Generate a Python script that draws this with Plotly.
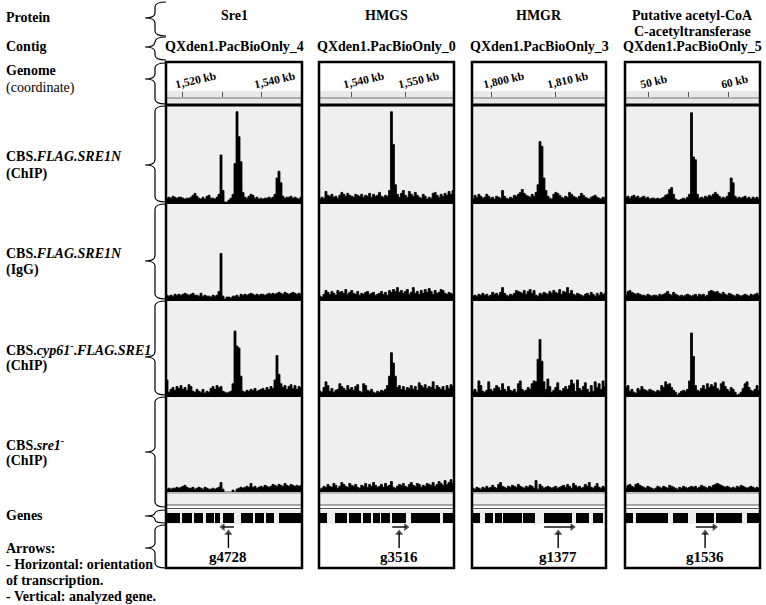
import plotly.graph_objects as go

W, H = 766, 605
SERIF = "Liberation Serif"

# ------------------------------------------------------------------ data
protein_names = ["Sre1", "HMGS", "HMGR", "Putative acetyl-CoA|C-acetyltransferase"]
contig_names = ["QXden1.PacBioOnly_4", "QXden1.PacBioOnly_0",
                "QXden1.PacBioOnly_3", "QXden1.PacBioOnly_5"]
target_genes = ["g4728", "g3516", "g1377", "g1536"]
target_strand = [-1, 1, 1, 1]
target_index = [5, 6, 5, 3]

view_start_kb = [1515.70, 1534.18, 1797.03, 47.16]
view_end_kb = [1550.13, 1558.73, 1817.97, 63.83]
bin_kb = [0.5063, 0.3610, 0.3080, 0.2451]

tick_kb = [[1520, 1540], [1540, 1550], [1800, 1810], [50, 60]]
tick_labels = [["1,520 kb", "1,540 kb"], ["1,540 kb", "1,550 kb"],
               ["1,800 kb", "1,810 kb"], ["50 kb", "60 kb"]]
minor_tick_kb = [[1530], [], [], [55]]

# coverage (% of track height), 68 bins per window
sre1_chip = [4,5,4,6,5,4,5,5,4,3,4,4,5,7,9,6,4,3,5,3,6,7,4,4,3,5,8,
             49,
             12,0,0,2,4,8,40,94,68,42,10,
             5,4,6,8,7,4,5,3,4,3,4,4,5,4,5,8,25,32,20,6,4,5,5,6,4,5,4,3,5]
sre1_igg = [4,3,4,3,5,4,5,4,5,6,5,4,5,6,4,4,3,6,3,4,3,3,2,4,3,4,8,
            48,
            3,0,2,2,1,3,3,4,2,5,4,5,4,5,6,5,4,5,4,5,5,4,5,6,5,6,5,6,7,6,5,7,6,5,6,7,6,5,6,5]
sre1_cyp61 = [16,3,6,8,5,9,7,10,6,8, 5,11,9,4,3,6,4,3,6,2, 4,3,7,9,6,10,8,9,4,3,
              2,3,4,12,68,52,50,20,4,3, 5,4,6,5,7,4,5,6,7,5, 8,6,9,7,16,42,22,12,8,10,
              6,9,11,7,10,6,9,8]
sre1_del = [3,4,3,4,4,5,4,5,6,7, 5,4,4,5,3,4,5,4,3,5, 4,3,3,4,3,4,5,10,3,0,
            0,0,0,2,0,3,4,5,4,5, 6,5,9,5,6,4,5,6,5,7, 6,5,6,8,7,6,8,7,6,9,
            7,6,8,7,6,7,6,7]

hmgs_chip = [3,5,4,11,7,6,8,5,6,4, 7,10,8,6,9,7,6,5,8,7, 6,8,5,7,6,9,5,8,6,7,
             10,6,5,7,6,12,94,60,18,8, 5,9,12,7,5,11,8,6,10,7, 5,4,8,6,3,5,4,9,10,7,
             5,8,6,9,7,11,8,12]
hmgs_igg = [3,2,5,9,7,5,8,6,4,9, 7,8,6,10,5,7,9,6,5,8, 4,6,5,7,8,5,6,7,4,5,
            6,8,5,7,4,9,7,10,8,12, 7,9,6,8,10,5,7,12,6,8, 5,9,6,10,7,11,8,5,9,6,
            7,10,9,6,5,7,6,5]
hmgs_cyp61 = [4,3,8,14,10,4,7,3,5,6, 12,9,7,5,10,6,8,5,9,11, 4,3,12,10,5,4,6,3,2,4,
              3,5,4,6,10,20,45,34,20,8, 10,6,9,5,8,7,10,6,9,5, 13,10,8,11,7,9,8,14,6,10,
              8,6,9,5,10,7,11,9]
hmgs_del = [3,4,6,5,8,6,5,9,7,4, 6,10,8,6,5,9,7,6,8,5, 4,7,6,9,5,8,6,10,7,5,
            6,8,5,9,6,7,11,5,4,6, 8,7,9,6,5,8,10,7,6,9, 8,5,7,6,9,8,7,10,6,8,
            11,9,7,12,8,10,13,9]

hmgr_chip = [3,7,5,8,6,4,5,8,6,4, 5,3,6,5,4,12,6,4,3,5, 4,7,6,8,10,13,9,7,6,5,
             8,6,10,18,63,58,25,12,6,4, 3,8,10,9,7,5,4,6,5,10, 8,6,5,4,6,9,7,5,4,3,
             5,6,7,5,4,3,5,4]
hmgr_igg = [3,4,3,5,4,6,4,5,3,4, 7,5,6,4,7,12,6,4,3,5, 4,6,9,8,7,6,9,5,8,10,
            6,9,4,3,6,5,7,6,5,8, 6,9,7,6,10,5,8,7,12,6, 9,5,4,6,5,4,3,5,6,4,
            7,5,3,6,4,7,5,6]
hmgr_cyp61 = [4,6,3,15,10,4,3,5,14,6, 4,7,10,8,5,12,6,4,9,5, 4,6,3,12,15,6,4,5,8,6,
              12,15,14,38,59,36,14,6,17,9, 3,5,8,13,5,4,7,9,6,10, 16,12,4,16,7,5,9,13,6,3,
              10,4,14,8,12,6,15,9]
hmgr_del = [4,3,5,4,3,5,4,6,4,5, 7,5,4,8,10,6,5,4,6,5, 7,6,5,8,6,5,4,6,5,7,
            6,4,12,3,8,6,4,5,6,5, 4,5,6,4,5,6,7,5,8,6, 4,9,7,5,6,4,5,8,6,10,
            5,4,6,9,5,4,6,5]

acat_chip = [5,6,4,6,7,5,6,4,5,6, 4,5,3,4,4,3,4,3,4,5, 7,8,13,15,8,3,2,2,3,4,
             3,5,8,93,47,44,8,4,5,4, 6,5,7,6,8,10,8,6,4,5, 4,6,10,25,20,6,4,5,4,5,
             6,4,5,3,5,4,5,3]
acat_igg = [4,8,9,7,6,5,6,5,4,4, 3,5,4,3,4,4,3,5,4,5, 6,8,5,4,7,5,4,3,4,3,
            4,5,4,3,4,5,3,5,4,5, 3,4,8,9,8,7,8,6,5,7, 5,4,6,5,4,3,5,4,3,4,
            5,4,3,5,4,5,6,4]
acat_cyp61 = [8,10,4,6,3,2,7,5,9,6, 5,4,6,5,4,3,5,4,10,8, 14,11,12,8,5,3,0,2,4,5,
              4,6,15,66,41,10,5,4,7,10, 6,12,8,11,9,13,7,5,12,14, 9,6,4,8,6,3,0,1,3,7,
              12,14,8,5,4,6,10,5]
acat_del = [4,7,8,6,5,8,9,7,6,5, 4,6,5,4,3,4,6,5,4,6, 5,4,7,6,5,4,3,5,4,6,
            5,4,5,6,5,6,4,5,7,6, 5,4,6,5,7,8,9,8,7,6, 5,6,5,4,5,4,6,5,7,6,
            5,4,5,6,5,4,5,4]

# gene models (kb)
sre1_gene_start = [1515.9, 1519.8, 1522.8, 1525.8, 1528.1, 1530.1, 1534.7, 1538.2, 1541.0, 1544.3]
sre1_gene_end = [1519.2, 1522.3, 1525.1, 1527.9, 1529.4, 1532.9, 1537.7, 1540.5, 1543.0, 1549.9]
hmgs_gene_start = [1534.2, 1537.1, 1539.6, 1542.2, 1544.0, 1545.5, 1547.5, 1550.9, 1556.7]
hmgs_gene_end = [1535.6, 1539.3, 1541.8, 1543.6, 1545.3, 1547.1, 1550.0, 1556.2, 1558.7]
hmgr_gene_start = [1797.0, 1799.1, 1800.6, 1801.9, 1805.0, 1808.3, 1813.3, 1815.9]
hmgr_gene_end = [1798.3, 1800.3, 1801.7, 1804.8, 1806.9, 1812.7, 1815.3, 1817.5]
acat_gene_start = [47.2, 48.5, 53.1, 55.9, 58.4, 62.2]
acat_gene_end = [48.1, 52.5, 54.9, 58.2, 61.6, 63.8]

coverage = [
    [sre1_chip, sre1_igg, sre1_cyp61, sre1_del],
    [hmgs_chip, hmgs_igg, hmgs_cyp61, hmgs_del],
    [hmgr_chip, hmgr_igg, hmgr_cyp61, hmgr_del],
    [acat_chip, acat_igg, acat_cyp61, acat_del],
]
gene_start = [sre1_gene_start, hmgs_gene_start, hmgr_gene_start, acat_gene_start]
gene_end = [sre1_gene_end, hmgs_gene_end, hmgr_gene_end, acat_gene_end]

# ------------------------------------------------------------------ geometry (pixels)
col_px = [(166, 302), (319, 454), (472, 606), (625, 760)]
BOX_TOP, BOX_BOT = 62, 568
track_px = [(106, 202), (204, 299), (301, 395), (397, 492)]
band_px = (92, 97)
genes_px = (513, 523)
arrow_px = (524, 568)


def px(x):
    return x / W


def py(y):
    return 1 - y / H


fig = go.Figure()
layout = dict(width=W, height=H, margin=dict(l=0, r=0, t=0, b=0),
              paper_bgcolor="white", plot_bgcolor="rgba(0,0,0,0)",
              showlegend=False, barmode="overlay", bargap=0)

# y axes: 1 = genome band, 2..5 = tracks, 6 = genes, 7 = arrow area
ydoms = [(band_px[1], band_px[0])] + [(b, t) for (t, b) in track_px] + \
        [(genes_px[1], genes_px[0]), (arrow_px[1], arrow_px[0])]
yranges = [[0, 1], [0, 100], [0, 100], [0, 100], [0, 100], [0, 1], [44, 0]]
for i, ((b, t), rg) in enumerate(zip(ydoms, yranges)):
    name = "yaxis" if i == 0 else f"yaxis{i+1}"
    layout[name] = dict(domain=[py(b), py(t)], range=rg, visible=False,
                        anchor="x", fixedrange=True)

for c in range(4):
    x0, x1 = col_px[c]
    name = "xaxis" if c == 0 else f"xaxis{c+1}"
    ax = dict(domain=[px(x0), px(x1)],
              range=[view_start_kb[c], view_end_kb[c]],
              anchor="y", side="top", ticks="inside", ticklen=5,
              tickwidth=1, tickcolor="#555", showgrid=False,
              zeroline=False, showline=False,
              tickmode="array", tickvals=tick_kb[c], ticktext=tick_labels[c],
              tickangle=-13, ticklabelshift=-8,
              tickfont=dict(family=SERIF, size=11.5, color="black", weight="bold"),
              fixedrange=True)
    if minor_tick_kb[c]:
        ax["minor"] = dict(tickmode="array", tickvals=minor_tick_kb[c], ticks="inside",
                           ticklen=5, tickwidth=1, tickcolor="#555", showgrid=False)
    layout[name] = ax
    xa = "x" if c == 0 else f"x{c+1}"
    fig.add_trace(go.Scatter(x=[], y=[], xaxis=xa, yaxis="y", hoverinfo="skip"))
    # coverage tracks
    for r in range(4):
        vals = coverage[c][r]
        xs = [view_start_kb[c] + i * bin_kb[c] for i in range(len(vals))] + [view_end_kb[c]]
        ys = list(vals) + [vals[-1]]
        fig.add_trace(go.Scatter(x=xs, y=ys, mode="lines",
                                 line=dict(color="black", width=0.8, shape="hv"),
                                 fill="tozeroy", fillcolor="black",
                                 xaxis=xa, yaxis=f"y{r+2}", hoverinfo="skip"))
    # genes
    s, e = gene_start[c], gene_end[c]
    fig.add_trace(go.Bar(x=[(a + b) / 2 for a, b in zip(s, e)], y=[1] * len(s),
                         width=[b - a for a, b in zip(s, e)], base=0,
                         marker=dict(color="black", line=dict(width=0)),
                         xaxis=xa, yaxis="y6", hoverinfo="skip"))
    # arrows for the analysed gene
    gi = target_index[c]
    gs, ge = s[gi], e[gi]
    mid = (gs + ge) / 2
    head, tail = (ge, gs) if target_strand[c] > 0 else (gs, ge)
    fig.add_trace(go.Scatter(x=[tail, head], y=[3, 3], mode="lines+markers",
                             line=dict(color="black", width=1.4),
                             marker=dict(symbol=["circle", "triangle-right" if target_strand[c] > 0 else "triangle-left"],
                                         size=[0, 7], color="black", line=dict(width=0)),
                             xaxis=xa, yaxis="y7", hoverinfo="skip"))
    fig.add_trace(go.Scatter(x=[mid, mid], y=[24, 9], mode="lines+markers",
                             line=dict(color="black", width=1.4),
                             marker=dict(symbol=["circle", "triangle-up"], size=[0, 7],
                                         color="black", line=dict(width=0)),
                             xaxis=xa, yaxis="y7", hoverinfo="skip"))

layout_shapes = []
annotations = []

for c in range(4):
    x0, x1 = col_px[c]
    X0, X1 = px(x0), px(x1)

    def rect(ya, yb, fill, layer="below"):
        layout_shapes.append(dict(type="rect", xref="paper", yref="paper",
                                  x0=X0, x1=X1, y0=py(ya), y1=py(yb),
                                  fillcolor=fill, line=dict(width=0), layer=layer))

    def hline(y, color, width, layer="above"):
        layout_shapes.append(dict(type="line", xref="paper", yref="paper",
                                  x0=X0, x1=X1, y0=py(y), y1=py(y),
                                  line=dict(color=color, width=width), layer=layer))

    rect(105, 505, "#efefef")
    rect(91, 104, "#e9e9e9")
    hline(98, "#777", 1, "below")
    rect(510, 524, "#efefef")
    hline(505, "#555", 1)
    hline(508.5, "#555", 1)
    hline(105, "black", 3)
    for y in (203, 300, 396):
        hline(y, "black", 2.2)
    hline(493, "#888", 1)
    layout_shapes.append(dict(type="rect", xref="paper", yref="paper",
                              x0=X0, x1=X1, y0=py(BOX_BOT), y1=py(BOX_TOP),
                              line=dict(color="black", width=2.5), layer="above"))

    cx = (x0 + x1) / 2
    lines = protein_names[c].split("|")
    ys = [16] if len(lines) == 1 else [15, 32]
    for t, yy in zip(lines, ys):
        annotations.append(dict(x=px(cx), y=py(yy), xref="paper", yref="paper",
                                xanchor="center", yanchor="middle",
                                text=f"<b>{t}</b>", showarrow=False,
                                font=dict(family=SERIF, size=14, color="black")))
    annotations.append(dict(x=px(cx), y=py(47), xref="paper", yref="paper",
                            xanchor="center", yanchor="middle",
                            text=f"<b>{contig_names[c]}</b>", showarrow=False,
                            font=dict(family=SERIF, size=14, color="black")))
    xa = "x" if c == 0 else f"x{c+1}"
    gi = target_index[c]
    mid = (gene_start[c][gi] + gene_end[c][gi]) / 2
    annotations.append(dict(x=mid, y=33, xref=xa, yref="y7", xanchor="center",
                            yanchor="middle", text=f"<b>{target_genes[c]}</b>",
                            showarrow=False, font=dict(family=SERIF, size=15, color="black")))

# braces on the left
braces = [(2, 36, 18), (37, 60, 47), (63, 104, 79), (106, 202, 165), (204, 299, 261),
          (301, 395, 357), (397, 507, 452), (510, 523, 516), (525, 568, 548)]


def P(x, y):
    return f"{px(x):.5f},{py(y):.5f}"


for (t, b, m) in braces:
    r = min(5, (b - t) / 4)
    path = (f"M {P(166, t)} Q {P(155, t)} {P(155, t + r)} L {P(155, m - r)} "
            f"Q {P(155, m)} {P(145, m)} Q {P(155, m)} {P(155, m + r)} "
            f"L {P(155, b - r)} Q {P(155, b)} {P(166, b)}")
    layout_shapes.append(dict(type="path", path=path, xref="paper", yref="paper",
                              line=dict(color="black", width=1.2), layer="above"))

left_labels = [
    ("<b>Protein</b>", 18), ("<b>Contig</b>", 46),
    ("<b>Genome</b>", 70), ("(coordinate)", 88),
    ("<b>CBS.<i>FLAG.SRE1N</i></b>", 157), ("<b>(ChIP)</b>", 174),
    ("<b>CBS.<i>FLAG.SRE1N</i></b>", 253), ("<b>(IgG)</b>", 270),
    ("<b>CBS.<i>cyp61</i><sup>-</sup>.<i>FLAG.SRE1</i></b>", 349), ("<b>(ChIP)</b>", 366),
    ("<b>CBS.<i>sre1</i><sup>-</sup></b>", 444), ("<b>(ChIP)</b>", 461),
    ("<b>Genes</b>", 515),
    ("<b>Arrows:</b>", 548), ("<b>- Horizontal: orientation</b>", 564),
    ("<b>of transcription.</b>", 580), ("<b>- Vertical: analyzed gene.</b>", 596),
]
for text, y in left_labels:
    annotations.append(dict(x=px(4), y=py(y), xref="paper", yref="paper", text=text,
                            xanchor="left", yanchor="middle", showarrow=False,
                            font=dict(family=SERIF, size=14, color="black")))

layout["shapes"] = layout_shapes
layout["annotations"] = annotations
fig.update_layout(**layout)
fig.write_html("out.html", config={"displayModeBar": False},
               post_script="document.body.style.margin='0px';document.body.style.overflow='hidden';")
